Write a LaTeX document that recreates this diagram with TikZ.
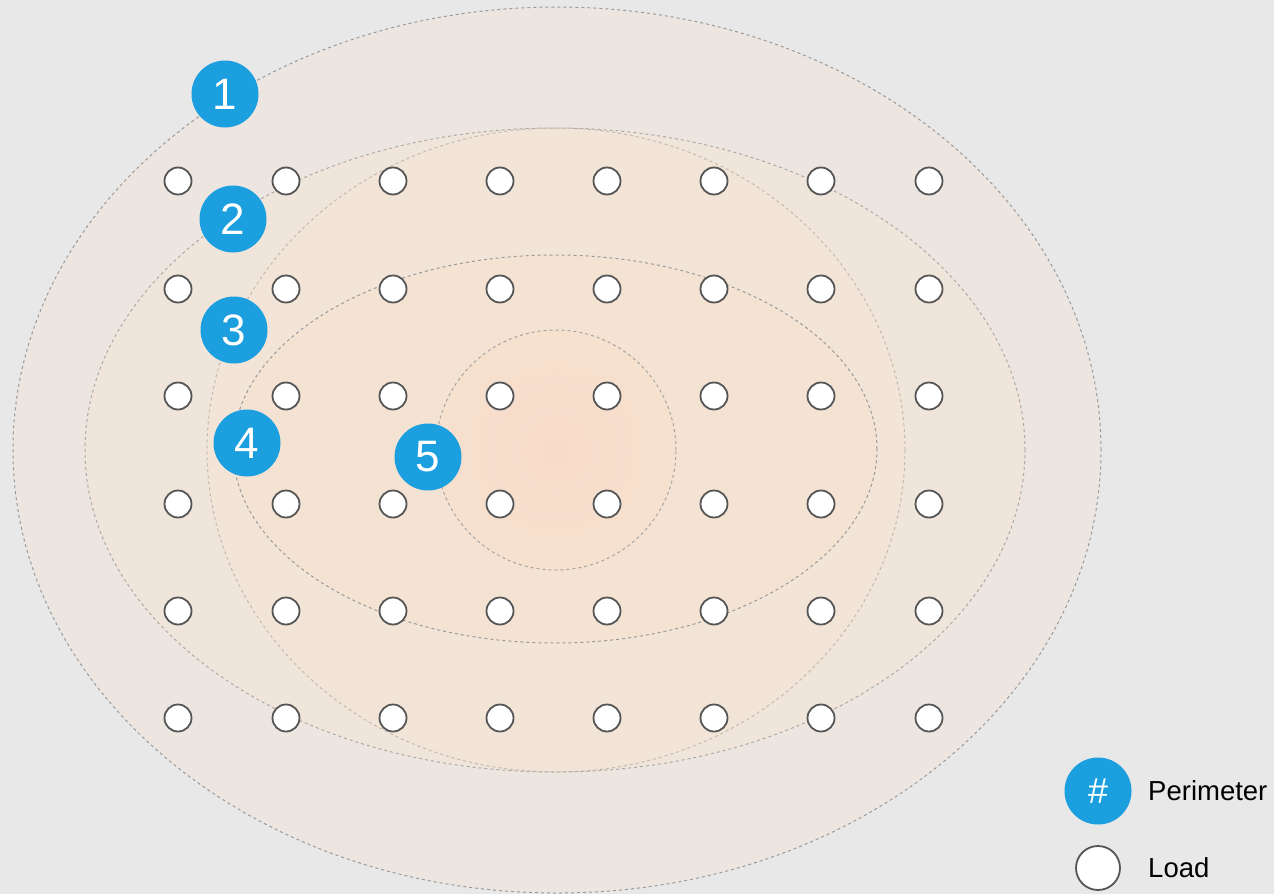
\documentclass[tikz,border=0pt]{standalone}
\usepackage{fontspec}
\setmainfont{Liberation Sans}
\usetikzlibrary{shapes.geometric}
\definecolor{bg}{HTML}{E8E8E8}
\definecolor{fa}{HTML}{EDE6E0}
\definecolor{fb}{HTML}{F0E5DA}
\definecolor{fc}{HTML}{F2E4D6}
\definecolor{fd}{HTML}{F4E3D3}
\definecolor{fe}{HTML}{F6E0CE}
\definecolor{fcenter}{HTML}{F8DCC9}
\definecolor{dashc}{HTML}{9A9A9A}
\definecolor{dashl}{HTML}{C2BAB2}
\definecolor{badge}{HTML}{1C9FDF}
\definecolor{ring}{HTML}{555555}
\tikzset{
  perim/.style={dashed, dash pattern=on 3pt off 3pt, line width=1pt, draw=dashc},
  load/.style={circle, draw=ring, line width=1.8pt, fill=white, minimum size=27pt, inner sep=0pt},
  badgebox/.style={circle, fill=badge, minimum size=67pt, inner sep=0pt, text=white,
    font=\fontsize{44}{44}\selectfont},
  legtext/.style={anchor=west, inner sep=0pt, font=\fontsize{27.5}{27.5}\selectfont, text=black}
}
\begin{document}
\begin{tikzpicture}[x=1pt,y=-1pt]
\useasboundingbox (0,0) rectangle (1274,894);
\fill[bg] (0,0) rectangle (1274,894);
% fills
\fill[fa] (557,450) ellipse [x radius=544pt, y radius=443pt];
\fill[fb] (555,450) ellipse [x radius=470pt, y radius=322pt];
\fill[fc] (556,450) ellipse [x radius=349pt, y radius=322pt];
\fill[fd] (555,449) ellipse [x radius=322pt, y radius=194pt];
\shade[inner color=fcenter, outer color=fe] (556,450) circle [radius=120pt];
% outlines
\draw[perim] (557,450) ellipse [x radius=544pt, y radius=443pt];
\draw[perim, draw=dashc!80!fb] (555,450) ellipse [x radius=470pt, y radius=322pt];
\draw[perim, draw=dashl] (556,450) ellipse [x radius=349pt, y radius=322pt];
\draw[perim] (555,449) ellipse [x radius=322pt, y radius=194pt];
\draw[perim, draw=dashc!85!fe] (556,450) circle [radius=120pt];
% loads
\foreach \r/\y in {1/181,2/289,3/396,4/504,5/611,6/718}{
  \foreach \c/\x in {1/178,2/286,3/393,4/500,5/607,6/714,7/821,8/929}{
    \node[load] (L\r-\c) at (\x,\y) {};
  }
}
% perimeter badges
\node[badgebox] (P1) at (225,94) {1};
\node[badgebox] (P2) at (233,219) {2};
\node[badgebox] (P3) at (234,330) {3};
\node[badgebox] (P4) at (247,443) {4};
\node[badgebox] (P5) at (428,457) {5};
% legend
\node[badgebox] (LP) at (1098,791) {\fontsize{36}{36}\selectfont\#};
\node[legtext] (LPt) at (1148,791) {Perimeter};
\node[load, minimum size=44pt] (LL) at (1098,868) {};
\node[legtext] (LLt) at (1148,868) {Load};
\end{tikzpicture}
\end{document}
